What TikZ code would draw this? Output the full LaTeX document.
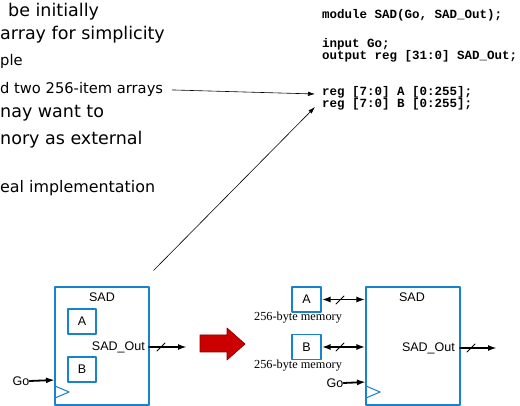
\documentclass[tikz,border=0pt]{standalone}
\usepackage{fontspec}
\setmainfont{Liberation Sans}
\newfontfamily\slidefont{DejaVu Sans}
\newfontfamily\codefont{Liberation Mono}
\newfontfamily\memfont{Liberation Serif}
\usetikzlibrary{arrows.meta}
\definecolor{boxblue}{RGB}{25,130,205}
\definecolor{bigred}{RGB}{204,0,0}
\definecolor{darkred}{RGB}{140,0,0}
\tikzset{
  blk/.style={draw=boxblue,line width=1.1pt,inner sep=0pt},
  tag/.style={inner sep=0pt,font=\fontsize{12.5}{14}\selectfont},
  big/.style={anchor=base west,inner sep=0pt,font=\slidefont\fontsize{17.5}{20}\selectfont},
  small/.style={anchor=base west,inner sep=0pt,font=\slidefont\fontsize{14.7}{17}\selectfont},
  code/.style={anchor=base west,inner sep=0pt,font=\codefont\bfseries\fontsize{12.5}{14}\selectfont},
  mem/.style={inner sep=0pt,font=\memfont\fontsize{12.3}{14}\selectfont},
  thin/.style={line width=0.6pt,-{Latex[length=7pt,width=4.5pt]}},
  bus/.style={line width=1.8pt,-{Latex[length=9pt,width=6pt]}},
  bibus/.style={line width=1.8pt,{Latex[length=9pt,width=6pt]}-{Latex[length=9pt,width=6pt]}}
}
\begin{document}
\begin{tikzpicture}[x=1pt,y=-1pt,line join=round,line cap=round]
  \useasboundingbox (0,0) rectangle (520,406);
  % slide text, cut off at the left
  \node[big] (t1) at (8,17) {be initially};
  \node[big] (t2) at (0,40) {array for simplicity};
  \node[small] (t3) at (0,66) {ple};
  \node[small] (t4) at (0,94) {d two 256-item arrays};
  \node[big] (t5) at (0,118) {nay want to};
  \node[big] (t6) at (0,145) {nory as external};
  \node[small,font=\slidefont\fontsize{15.9}{18}\selectfont] (t7) at (0,193) {eal implementation};
  % verilog
  \node[code] (c1) at (322,19) {module SAD(Go, SAD\_Out);};
  \node[code] (c2) at (322,48) {input Go;};
  \node[code] (c3) at (322,60) {output reg [31:0] SAD\_Out;};
  \node[code] (c4) at (322,96) {reg [7:0] A [0:255];};
  \node[code] (c5) at (322,108) {reg [7:0] B [0:255];};
  \coordinate (tipA) at (315,94);
  \coordinate (tipB) at (315,107);
  % left: memories inside
  \node[blk,minimum width=94pt,minimum height=118pt] (sadL) at (102,346) {};
  \node[tag] (sadLt) at (102,297) {SAD};
  \node[blk,minimum width=28pt,minimum height=25pt] (memLA) at (82,321.5) {};
  \node[tag] (memLAt) at (memLA) {A};
  \node[blk,minimum width=28pt,minimum height=25pt] (memLB) at (82,369.5) {};
  \node[tag] (memLBt) at (memLB) {B};
  \node[tag,anchor=east] (outL) at (145,347) {SAD\_Out};
  \node[tag] (goL) at (21,381) {Go};
  \draw[boxblue,line width=1pt] (55,386) -- (69,392) -- (55,398);
  \coordinate (outLend) at (187,347);
  \draw[bus] (149,347) -- (outLend);
  \draw[line width=0.8pt] (157,351) -- (165,343);
  \draw[bus] (goL.east) -- (55,380);
  % pointers to the code
  \draw[thin] ([xshift=9pt]t4.east) -- (tipA);
  \draw[thin] (sadL.north east) ++(4,-16) -- (tipB);
  % big red arrow
  \draw[fill=bigred,draw=darkred,line width=0.7pt] (200,335) -- (227,335) -- (227,328) -- (245,344) -- (227,360) -- (227,352) -- (200,352) -- cycle;
  % right: memories outside
  \node[blk,minimum width=94pt,minimum height=118pt] (sadR) at (413,346) {};
  \node[tag] (sadRt) at (412,297) {SAD};
  \node[blk,minimum width=29pt,minimum height=25pt] (memRA) at (306.5,299.5) {};
  \node[tag] (memRAt) at (memRA) {A};
  \node[mem] (memRAl) at (298,318) {256-byte memory};
  \node[blk,minimum width=29pt,minimum height=25pt] (memRB) at (306.5,347) {};
  \node[tag] (memRBt) at (memRB) {B};
  \node[mem] (memRBl) at (298,366) {256-byte memory};
  \node[tag,anchor=east] (outR) at (455,348) {SAD\_Out};
  \node[tag] (goR) at (335,383) {Go};
  \draw[boxblue,line width=1pt] (366,386) -- (380,392) -- (366,398);
  \draw[bibus] (memRA.east) -- (memRA.east -| sadR.west);
  \draw[line width=0.8pt] (336,304) -- (344,296);
  \draw[bibus] (memRB.east) -- (memRB.east -| sadR.west);
  \draw[line width=0.8pt] (336,351) -- (344,343);
  \coordinate (outRend) at (497,348);
  \draw[bus] (460,348) -- (outRend);
  \draw[line width=0.8pt] (467,352) -- (475,344);
  \draw[bus] (goR.east) -- (366,382);
\end{tikzpicture}
\end{document}
